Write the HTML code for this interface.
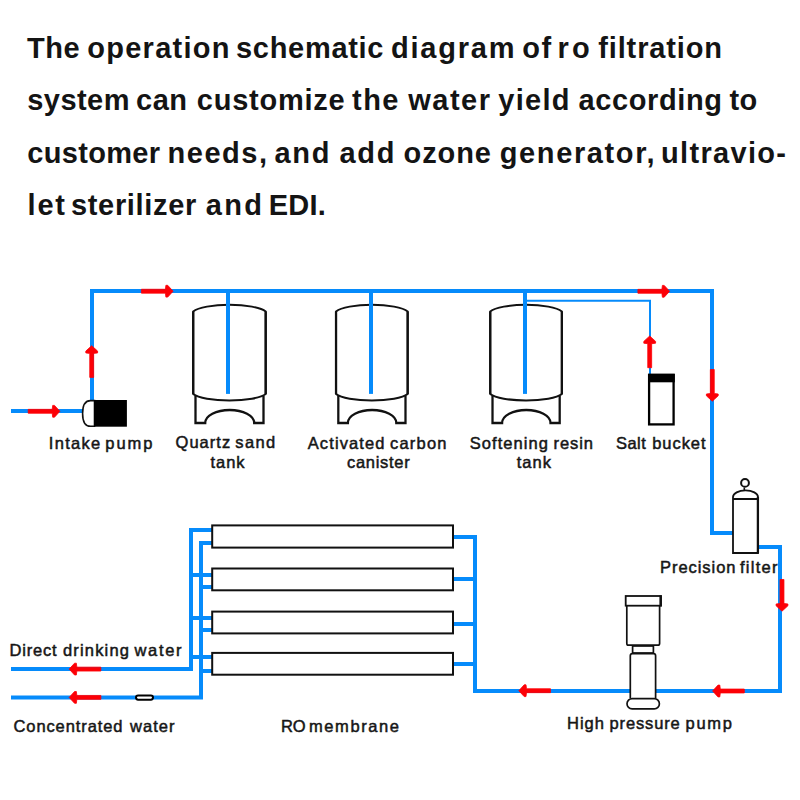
<!DOCTYPE html>
<html><head><meta charset="utf-8">
<style>
html,body{margin:0;padding:0;background:#fff;}
body{width:800px;height:800px;overflow:hidden;position:relative;}
svg{position:absolute;left:0;top:0;}
.t{font-family:"Liberation Sans",sans-serif;font-weight:bold;font-size:29px;fill:#141414;}
.l{font-family:"Liberation Sans",sans-serif;font-weight:normal;font-size:16.5px;fill:#161616;stroke:#161616;stroke-width:0.5px;}
</style></head>
<body>
<svg width="800" height="800" viewBox="0 0 800 800">
<!-- title -->
<text class="t" x="27.00" y="58" textLength="52.75" lengthAdjust="spacing">The</text>
<text class="t" x="87.25" y="58" textLength="142.25" lengthAdjust="spacing">operation</text>
<text class="t" x="236.00" y="58" textLength="147.50" lengthAdjust="spacing">schematic</text>
<text class="t" x="391.00" y="58" textLength="123.50" lengthAdjust="spacing">diagram</text>
<text class="t" x="522.25" y="58" textLength="29.00" lengthAdjust="spacing">of</text>
<text class="t" x="557.50" y="58" textLength="32.25" lengthAdjust="spacing">ro</text>
<text class="t" x="598.25" y="58" textLength="123.75" lengthAdjust="spacing">filtration</text>
<text class="t" x="27.25" y="110" textLength="102.25" lengthAdjust="spacing">system</text>
<text class="t" x="136.00" y="110" textLength="51.00" lengthAdjust="spacing">can</text>
<text class="t" x="196.75" y="110" textLength="148.00" lengthAdjust="spacing">customize</text>
<text class="t" x="352.00" y="110" textLength="46.50" lengthAdjust="spacing">the</text>
<text class="t" x="408.25" y="110" textLength="81.75" lengthAdjust="spacing">water</text>
<text class="t" x="498.25" y="110" textLength="71.25" lengthAdjust="spacing">yield</text>
<text class="t" x="578.50" y="110" textLength="143.50" lengthAdjust="spacing">according</text>
<text class="t" x="729.50" y="110" textLength="27.75" lengthAdjust="spacing">to</text>
<text class="t" x="27.25" y="163" textLength="132.75" lengthAdjust="spacing">customer</text>
<text class="t" x="167.50" y="163" textLength="99.50" lengthAdjust="spacing">needs,</text>
<text class="t" x="274.50" y="163" textLength="55.00" lengthAdjust="spacing">and</text>
<text class="t" x="339.50" y="163" textLength="55.00" lengthAdjust="spacing">add</text>
<text class="t" x="403.50" y="163" textLength="87.50" lengthAdjust="spacing">ozone</text>
<text class="t" x="499.75" y="163" textLength="154.75" lengthAdjust="spacing">generator,</text>
<text class="t" x="661.00" y="163" textLength="125.00" lengthAdjust="spacing">ultravio-</text>
<text class="t" x="27.50" y="215" textLength="37.50" lengthAdjust="spacing">let</text>
<text class="t" x="71.00" y="215" textLength="125.25" lengthAdjust="spacing">sterilizer</text>
<text class="t" x="205.75" y="215" textLength="56.25" lengthAdjust="spacing">and</text>
<text class="t" x="268.75" y="215" textLength="57.00" lengthAdjust="spacing">EDI.</text>

<!-- blue pipes -->
<g fill="none" stroke="#068bfb" stroke-width="4" stroke-linejoin="miter" stroke-linecap="butt">
  <path d="M11,411 L83,411"/>
  <path d="M92,400 L92,291 L712,291 L712,533 L733,533"/>
  <path d="M228,291 L228,393.7"/>
  <path d="M371,291 L371,393.7"/>
  <path d="M525,291 L525,393.7"/>
  <path d="M758,547 L780,547 L780,691 L475,691 L475,535"/>
  <path d="M454,537 L475,537 M454,579 L475,579 M454,624 L475,624 M454,664 L475,664"/>
  <path d="M212,530 L191,530 L191,669 L11,669"/>
  <path d="M212,543 L201,543 L201,697.5 L11,697.5"/>
  <path d="M191,575 L212,575 M191,618 L212,618 M191,657 L212,657"/>
  <path d="M201,587 L212,587 M201,630 L212,630 M201,671 L212,671"/>
</g>
<path d="M527,300.8 L650,300.8 L650,374" fill="none" stroke="#068bfb" stroke-width="2"/>

<!-- tanks -->
<g fill="none" stroke="#111" stroke-width="2">
  <g transform="translate(192.2,0)">
    <path d="M1,311.5 A38,9.6 0 0 1 73.5,311.5 L73.5,394 A38,9.3 0 0 1 1,394 Z" stroke-width="2"/><path d="M1,311.5 L1,394 M73.5,311.5 L73.5,394" stroke-width="2.3"/>
    <path d="M3.3,396 L3.3,423 L13,423 A24.5,13 0 0 1 62,423 L71.3,423 L71.3,396" stroke-width="2.3"/>
  </g>
  <g transform="translate(335.05,0) scale(0.988,1)">
    <path d="M1,311.5 A38,9.6 0 0 1 73.5,311.5 L73.5,394 A38,9.3 0 0 1 1,394 Z" stroke-width="2"/><path d="M1,311.5 L1,394 M73.5,311.5 L73.5,394" stroke-width="2.3"/>
    <path d="M3.3,396 L3.3,423 L13,423 A24.5,13 0 0 1 62,423 L71.3,423 L71.3,396" stroke-width="2.3"/>
  </g>
  <g transform="translate(489.25,0) scale(0.988,1)">
    <path d="M1,311.5 A38,9.6 0 0 1 73.5,311.5 L73.5,394 A38,9.3 0 0 1 1,394 Z" stroke-width="2"/><path d="M1,311.5 L1,394 M73.5,311.5 L73.5,394" stroke-width="2.3"/>
    <path d="M3.3,396 L3.3,423 L13,423 A24.5,13 0 0 1 62,423 L71.3,423 L71.3,396" stroke-width="2.3"/>
  </g>
</g>
<!-- re-draw pipes inside tanks on top of dome -->
<g stroke="#068bfb" stroke-width="4">
  <path d="M228,293 L228,393.7"/>
  <path d="M371,293 L371,393.7"/>
  <path d="M525,293 L525,393.7"/>
</g>

<!-- intake pump -->
<path d="M94.5,400.6 L90.5,400.6 C85,400.6 82.6,405 82.6,413.4 C82.6,421.8 85,426.2 90.5,426.2 L94.5,426.2 Z" fill="#fff" stroke="#111" stroke-width="1.6"/>
<rect x="94" y="400" width="32.9" height="26.7" fill="#000"/>

<!-- salt bucket -->
<rect x="649.1" y="374.9" width="24.5" height="49.5" fill="#fff" stroke="#000" stroke-width="2.3"/>
<rect x="648" y="373.8" width="26.8" height="8.5" fill="#000"/>

<!-- precision filter -->
<g fill="#fff" stroke="#111" stroke-width="1.8">
  <path d="M733,499 L733,497 A12.5,6.6 0 0 1 758,497 L758,553 L733,553 Z"/>
  <path d="M733,499 L758,499" stroke-width="2"/>
  <path d="M757.9,497 L757.9,553" stroke-width="2.3"/>
  <path d="M744.3,487.5 L744.3,490.5" stroke-width="1.6"/>
  <circle cx="745" cy="482.9" r="3.9" stroke-width="2"/>
</g>

<!-- high pressure pump -->
<g fill="#fff" stroke="#111" stroke-width="1.7">
  <rect x="632.6" y="646" width="20.8" height="7"/>
  <path d="M626.8,605.6 L626.8,643.5 Q626.8,645.2 628.5,645.2 L657.8,645.2 Q659.6,645.2 659.6,643.5 L659.6,605.6"/>
  <rect x="625.7" y="596" width="35.3" height="9.7" stroke-width="1.8"/>
  <path d="M660.6,595.5 L660.6,606.3" stroke-width="2.4"/>
  <path d="M630.3,698 L630.3,655.7 Q630.3,653.6 632.4,653.6 L653.6,653.6 Q655.6,653.6 655.6,655.7 L655.6,698"/>
  <rect x="627" y="698.6" width="32.4" height="10.2" rx="5.1" ry="5.1"/>
</g>

<!-- RO membranes -->
<g fill="#fff" stroke="#111" stroke-width="2">
  <rect x="212.2" y="525.4" width="240.8" height="22.2"/>
  <rect x="212.2" y="568.5" width="240.8" height="21.8"/>
  <rect x="212.2" y="611.6" width="240.8" height="21.8"/>
  <rect x="212.2" y="652.9" width="240.8" height="21.8"/>
</g>

<!-- valve -->
<rect x="136" y="695.5" width="17" height="4.2" rx="2.1" ry="2.1" fill="#fff" stroke="#000" stroke-width="2"/>

<!-- red arrows -->
<g fill="#fc0006" stroke="#fc0006" stroke-width="0.8" stroke-linejoin="round">
  <path d="M-0.4,0 L-5.8,-5.9 L-7.6,-5.9 L-8.1,-1.95 L-32.1,-1.95 L-32.1,1.95 L-8.1,1.95 L-7.6,5.9 L-5.8,5.9 Z" transform="translate(60.3,411.3)"/>
  <path d="M-0.4,0 L-5.8,-5.9 L-7.6,-5.9 L-8.1,-1.95 L-32.1,-1.95 L-32.1,1.95 L-8.1,1.95 L-7.6,5.9 L-5.8,5.9 Z" transform="translate(91.7,345.3) rotate(-90)"/>
  <path d="M-0.4,0 L-5.8,-5.9 L-7.6,-5.9 L-8.1,-1.95 L-32.1,-1.95 L-32.1,1.95 L-8.1,1.95 L-7.6,5.9 L-5.8,5.9 Z" transform="translate(173.5,291.2)"/>
  <path d="M-0.4,0 L-5.8,-5.9 L-7.6,-5.9 L-8.1,-1.95 L-32.1,-1.95 L-32.1,1.95 L-8.1,1.95 L-7.6,5.9 L-5.8,5.9 Z" transform="translate(670,291.3)"/>
  <path d="M-0.4,0 L-5.8,-5.9 L-7.6,-5.9 L-8.1,-1.95 L-32.1,-1.95 L-32.1,1.95 L-8.1,1.95 L-7.6,5.9 L-5.8,5.9 Z" transform="translate(649.7,335.6) rotate(-90)"/>
  <path d="M-0.4,0 L-5.8,-5.9 L-7.6,-5.9 L-8.1,-1.95 L-32.1,-1.95 L-32.1,1.95 L-8.1,1.95 L-7.6,5.9 L-5.8,5.9 Z" transform="translate(712.3,401.6) rotate(90)"/>
  <path d="M-0.4,0 L-5.8,-5.9 L-7.6,-5.9 L-8.1,-1.95 L-32.1,-1.95 L-32.1,1.95 L-8.1,1.95 L-7.6,5.9 L-5.8,5.9 Z" transform="translate(782,611.6) rotate(90)"/>
  <path d="M-0.4,0 L-5.8,-5.9 L-7.6,-5.9 L-8.1,-1.95 L-32.1,-1.95 L-32.1,1.95 L-8.1,1.95 L-7.6,5.9 L-5.8,5.9 Z" transform="translate(712.2,691) rotate(180)"/>
  <path d="M-0.4,0 L-5.8,-5.9 L-7.6,-5.9 L-8.1,-1.95 L-32.1,-1.95 L-32.1,1.95 L-8.1,1.95 L-7.6,5.9 L-5.8,5.9 Z" transform="translate(518.4,690.7) rotate(180)"/>
  <path d="M-0.4,0 L-5.8,-5.9 L-7.6,-5.9 L-8.1,-1.95 L-32.1,-1.95 L-32.1,1.95 L-8.1,1.95 L-7.6,5.9 L-5.8,5.9 Z" transform="translate(68.75,669.1) rotate(180)"/>
  <path d="M-0.4,0 L-5.8,-5.9 L-7.6,-5.9 L-8.1,-1.95 L-32.1,-1.95 L-32.1,1.95 L-8.1,1.95 L-7.6,5.9 L-5.8,5.9 Z" transform="translate(68.75,697.4) rotate(180)"/>
</g>

<!-- labels -->
<text class="l" x="48.75" y="448.8" textLength="51.50" lengthAdjust="spacing">Intake</text>
<text class="l" x="105.25" y="448.8" textLength="47.25" lengthAdjust="spacing">pump</text>
<text class="l" x="175.50" y="448.3" textLength="54.75" lengthAdjust="spacing">Quartz</text>
<text class="l" x="235.25" y="448.3" textLength="40.00" lengthAdjust="spacing">sand</text>
<text class="l" x="210.50" y="468.3" textLength="34.00" lengthAdjust="spacing">tank</text>
<text class="l" x="307.75" y="448.8" textLength="76.75" lengthAdjust="spacing">Activated</text>
<text class="l" x="390.00" y="448.8" textLength="56.50" lengthAdjust="spacing">carbon</text>
<text class="l" x="347.00" y="468.4" textLength="62.75" lengthAdjust="spacing">canister</text>
<text class="l" x="469.75" y="448.8" textLength="78.25" lengthAdjust="spacing">Softening</text>
<text class="l" x="553.50" y="448.8" textLength="39.50" lengthAdjust="spacing">resin</text>
<text class="l" x="516.75" y="468.4" textLength="34.25" lengthAdjust="spacing">tank</text>
<text class="l" x="616.00" y="448.8" textLength="29.75" lengthAdjust="spacing">Salt</text>
<text class="l" x="652.25" y="448.8" textLength="53.25" lengthAdjust="spacing">bucket</text>
<text class="l" x="660.00" y="572.8" textLength="75.50" lengthAdjust="spacing">Precision</text>
<text class="l" x="740.00" y="572.8" textLength="37.50" lengthAdjust="spacing">filter</text>
<text class="l" x="567.00" y="728.6" textLength="37.00" lengthAdjust="spacing">High</text>
<text class="l" x="609.50" y="728.6" textLength="70.25" lengthAdjust="spacing">pressure</text>
<text class="l" x="685.50" y="728.6" textLength="46.50" lengthAdjust="spacing">pump</text>
<text class="l" x="9.50" y="655.8" textLength="47.00" lengthAdjust="spacing">Direct</text>
<text class="l" x="63.00" y="655.8" textLength="66.00" lengthAdjust="spacing">drinking</text>
<text class="l" x="134.50" y="655.8" textLength="47.00" lengthAdjust="spacing">water</text>
<text class="l" x="13.50" y="732" textLength="109.00" lengthAdjust="spacing">Concentrated</text>
<text class="l" x="130.00" y="732" textLength="44.50" lengthAdjust="spacing">water</text>
<text class="l" x="281.00" y="731.9" textLength="24.50" lengthAdjust="spacing">RO</text>
<text class="l" x="309.00" y="731.9" textLength="90.00" lengthAdjust="spacing">membrane</text>
</svg>
</body></html>
